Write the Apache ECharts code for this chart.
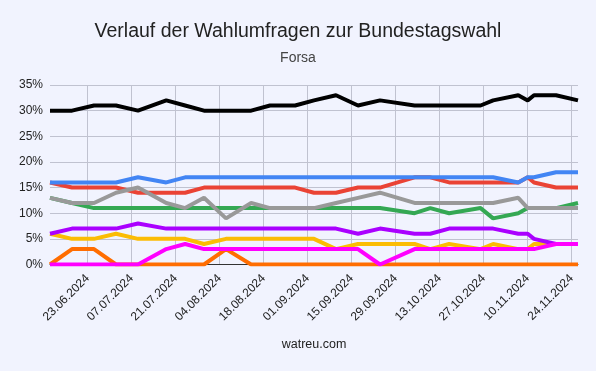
<!DOCTYPE html>
<html>
<head>
<meta charset="utf-8">
<script src="https://cdn.jsdelivr.net/npm/echarts@6/dist/echarts.min.js"></script>
<style>
html,body{margin:0;padding:0;background:#f1f3fe;}
#chart{width:596px;height:371px;}
</style>
</head>
<body>
<div id="chart"></div>
<script>
// Survey dates (Forsa)
const dates = ['11.06.2024','18.06.2024','25.06.2024','02.07.2024','09.07.2024','18.07.2024','24.07.2024','30.07.2024','06.08.2024','14.08.2024','20.08.2024','28.08.2024','03.09.2024','10.09.2024','17.09.2024','24.09.2024','05.10.2024','10.10.2024','16.10.2024','26.10.2024','30.10.2024','07.11.2024','10.11.2024','12.11.2024','19.11.2024','26.11.2024'];
// Party values in %
const cdu   = [30,30,31,31,30,32,31,30,30,30,31,31,32,33,31,32,31,31,31,31,32,33,32,33,33,32];
const afd   = [16,16,16,16,17,16,17,17,17,17,17,17,17,17,17,17,17,17,17,17,17,16,17,17,18,18];
const spd   = [16,15,15,15,14,14,14,15,15,15,15,15,14,14,15,15,17,17,16,16,16,16,17,16,15,15];
const other = [13,12,12,14,15,12,11,13,9,12,11,11,11,12,13,14,12,12,12,12,12,13,11,11,11,11];
const gruene= [13,12,11,11,11,11,11,11,11,11,11,11,11,11,11,11,10,11,10,11,9,10,11,11,11,12];
const bsw   = [6,7,7,7,8,7,7,7,7,7,7,7,7,7,6,7,6,6,7,7,7,6,6,5,4,4];
const fdp   = [6,5,5,6,5,5,5,4,5,5,5,5,5,3,4,4,4,3,4,3,4,3,3,4,4,4];
const linke = [0,0,0,0,0,3,4,3,3,3,3,3,3,3,3,0,3,3,3,3,3,3,3,3,4,4];
const fw    = [0,3,3,0,0,0,0,0,3,0,0,0,0,0,0,0,0,0,0,0,0,0,0,0,0,0];
// Axis tick labels
const tickDates = ['23.06.2024','07.07.2024','21.07.2024','04.08.2024','18.08.2024','01.09.2024','15.09.2024','29.09.2024','13.10.2024','27.10.2024','10.11.2024','24.11.2024'];
const xStart = '11.06.2024';
const xEnd = '26.11.2024';

function toDay(s){ const p = s.split('.').map(Number); return Date.UTC(p[2], p[1]-1, p[0]) / 86400000; }
function fmt(v){ const d = new Date(Math.round(v) * 86400000); const dd = String(d.getUTCDate()).padStart(2,'0'); const mm = String(d.getUTCMonth()+1).padStart(2,'0'); return dd + '.' + mm + '.' + d.getUTCFullYear(); }

const FONT = '"Liberation Sans", Arial, sans-serif';
const seriesDefs = [
  ['Freie Wähler', fw, '#ff6d01'],
  ['Grüne', gruene, '#34a853'],
  ['SPD', spd, '#ea4335'],
  ['FDP', fdp, '#fbbc04'],
  ['BSW', bsw, '#aa00ff'],
  ['AfD', afd, '#4285f4'],
  ['Sonstige', other, '#999999'],
  ['Linke', linke, '#ff00ff'],
  ['CDU/CSU', cdu, '#000000']
];
const tickVals = tickDates.map(toDay);

const chart = echarts.init(document.getElementById('chart'), null, {renderer:'canvas'});
chart.setOption({
  animation: false,
  backgroundColor: '#f1f3fe',
  textStyle: { fontFamily: FONT },
  title: [
    { text: 'Verlauf der Wahlumfragen zur Bundestagswahl', left: 298, top: 22, textAlign: 'center', padding: 0,
      textStyle: { fontFamily: FONT, fontSize: 19.5, fontWeight: 'normal', color: '#222' } },
    { text: 'Forsa', left: 298, top: 51, textAlign: 'center', padding: 0,
      textStyle: { fontFamily: FONT, fontSize: 14, fontWeight: 'normal', color: '#444' } },
    { text: 'watreu.com', left: 314, top: 338, textAlign: 'center', padding: 0,
      textStyle: { fontFamily: FONT, fontSize: 12.5, fontWeight: 'normal', color: '#222' } }
  ],
  grid: { left: 50, right: 18, top: 85, bottom: 106.5, containLabel: false, outerBoundsMode: 'none' },
  xAxis: {
    type: 'value', min: toDay(xStart), max: toDay(xEnd),
    axisLine: { show: true, onZero: true, lineStyle: { color: '#333', width: 1 } },
    axisTick: { show: false, customValues: tickVals },
    axisLabel: { customValues: tickVals, formatter: fmt, rotate: 45, margin: 12, fontFamily: FONT, fontSize: 12, color: '#222' },
    splitLine: { show: true, lineStyle: { color: '#c0c2d0', width: 1 } }
  },
  yAxis: {
    type: 'value', min: 0, max: 35, interval: 5,
    axisLine: { show: false }, axisTick: { show: false },
    axisLabel: { formatter: '{value}%', margin: 7, fontFamily: FONT, fontSize: 12, color: '#222' },
    splitLine: { show: true, lineStyle: { color: '#c0c2d0', width: 1 } }
  },
  series: seriesDefs.map(function(s){
    return {
      name: s[0], type: 'line', symbol: 'none', showSymbol: false,
      lineStyle: { width: 4, color: s[2] }, itemStyle: { color: s[2] },
      data: dates.map(function(d, i){ return [toDay(d), s[1][i]]; })
    };
  })
});
</script>
</body>
</html>
